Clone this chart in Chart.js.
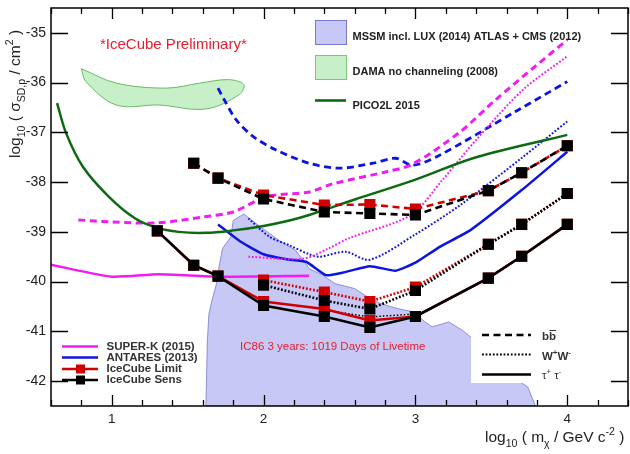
<!DOCTYPE html>
<html>
<head>
<meta charset="utf-8">
<script src="https://cdn.jsdelivr.net/npm/chart.js@4"></script>
<style>
  html, body { margin:0; padding:0; background:#fff; }
  #wrap { width:630px; height:454px; }
</style>
</head>
<body>
<div id="wrap"><canvas id="c" width="630" height="454"></canvas></div>
<script>
// ---- data (log10 mass, log10 cross-section) ----
const xTicks = [1, 2, 3, 4];
const yTicks = [-42, -41, -40, -39, -38, -37, -36, -35];

// IceCube masses (log10 GeV)
const xIC      = [1.30, 1.54, 1.70, 2.00, 2.40, 2.70, 3.00, 3.48, 3.70, 4.00];
const tauSens  = [-38.98, -39.67, -39.89, -40.48, -40.70, -40.92, -40.70, -39.93, -39.49, -38.85];
const tauLimit = [-38.98, -39.67, -39.89, -40.40, -40.55, -40.78, -40.70, -39.93, -39.49, -38.85];
const bbSens   = [null, -37.62, -37.92, -38.34, -38.60, -38.63, -38.66, -38.17, -37.81, -37.27];
const bbLimit  = [null, -37.62, -37.92, -38.26, -38.46, -38.45, -38.54, -38.17, -37.81, -37.27];
const wwSens   = [null, null, null, -40.07, -40.38, -40.55, -40.18, -39.25, -38.85, -38.23];
const wwLimit  = [null, null, null, -39.97, -40.21, -40.40, -40.11, -39.25, -38.85, -38.23];
const tauExtraX = [2.42, 2.70, 3.00];
const tauExtraY = [-40.58, -40.71, -40.65];

// SUPER-K (2015)
const skTauX = [0.60, 1.00, 1.31, 1.70, 2.30];
const skTauY = [-39.66, -39.90, -39.85, -39.90, -39.88];
const skBbX  = [0.78, 1.00, 1.30, 1.60, 1.80, 2.02, 2.30, 2.45, 2.81, 2.98, 3.29, 3.53, 3.79, 4.00];
const skBbY  = [-38.76, -38.80, -38.82, -38.70, -38.60, -38.29, -38.20, -38.04, -37.79, -37.64, -37.00, -36.34, -35.67, -35.14];
const skWwX  = [1.90, 2.26, 2.43, 2.56, 2.97, 3.18, 3.40, 3.71, 4.00];
const skWwY  = [-39.50, -39.54, -39.33, -39.13, -38.66, -37.95, -37.15, -36.14, -35.47];

// ANTARES (2013)
const anTauX = [1.70, 1.85, 2.00, 2.15, 2.28, 2.41, 2.52, 2.70, 2.87, 3.00, 3.16, 3.36, 3.70, 4.00];
const anTauY = [-38.85, -39.20, -39.45, -39.55, -39.60, -39.87, -39.82, -39.69, -39.78, -39.62, -39.30, -38.97, -38.16, -37.39];
const anWwX  = [1.90, 2.04, 2.17, 2.30, 2.37, 2.54, 2.70, 3.00, 3.30, 3.71, 4.00];
const anWwY  = [-38.73, -39.10, -39.27, -39.45, -39.50, -39.40, -39.56, -39.05, -38.45, -37.49, -36.78];
const anBbX  = [1.70, 1.74, 1.82, 1.93, 2.08, 2.30, 2.50, 2.72, 2.87, 2.98, 3.14, 3.66, 4.00];
const anBbY  = [-36.11, -36.34, -36.75, -37.08, -37.35, -37.62, -37.72, -37.62, -37.52, -37.66, -37.49, -36.58, -35.98];

// PICO2L 2015
const picoX = [0.64, 0.70, 0.81, 0.98, 1.15, 1.29, 1.44, 1.62, 1.80, 2.00, 2.17, 2.30, 2.60, 3.00, 3.40, 4.00];
const picoY = [-36.41, -37.02, -37.69, -38.29, -38.72, -38.91, -39.00, -39.02, -38.97, -38.88, -38.77, -38.66, -38.35, -37.95, -37.50, -37.05];

// DAMA no channeling (2008) region outline
const damaX = [0.80, 1.03, 1.36, 1.58, 1.77, 1.87, 1.84, 1.62, 1.31, 1.03, 0.83, 0.80];
const damaY = [-35.72, -36.01, -36.11, -36.01, -35.94, -36.04, -36.24, -36.53, -36.45, -36.45, -35.98, -35.72];

// MSSM region outline
const mssmX = [1.62, 1.63, 1.64, 1.66, 1.69, 1.71, 1.73, 1.785, 1.80, 1.87, 1.95, 2.10, 2.21, 2.27, 2.30, 2.39, 2.47, 2.60, 2.70, 2.77, 2.88, 2.99, 3.06, 3.11, 3.22, 3.31, 3.40, 3.60, 3.71, 3.74, 3.79, 1.62];
const mssmY = [-42.50, -41.18, -40.65, -40.38, -40.04, -39.64, -39.33, -39.10, -38.77, -38.64, -38.83, -39.17, -39.37, -39.60, -39.74, -39.87, -40.04, -40.14, -40.34, -40.44, -40.54, -40.61, -40.80, -40.91, -40.81, -40.98, -41.20, -41.80, -42.06, -42.12, -42.50, -42.50];

const C = {
  mag:   '#f01cf0',
  blue:  '#0c14e0',
  green: '#0d6a10',
  red:   '#d00000',
  black: '#000000',
  txt:   '#222222',
  note:  '#e4202f',
};
const FONT = '"Liberation Sans", Arial, Helvetica, sans-serif';

const pts = (xs, ys) => xs.map((x, i) => ({ x, y: ys[i] })).filter(p => p.y !== null);

function line(label, xs, ys, color, opts = {}) {
  return Object.assign({
    label, data: pts(xs, ys), showLine: true,
    borderColor: color, backgroundColor: color, borderWidth: 2.5,
    pointRadius: 0, tension: 0.3, fill: false, order: 5,
  }, opts);
}

const DASH = [7, 4.5], DOT = [1.8, 1.8];
const sq = { pointStyle: 'rect', pointRadius: 6, tension: 0, borderWidth: 2.6 };

const datasets = [
  line('MSSM', mssmX, mssmY, 'rgba(110,110,200,0.9)', { backgroundColor: 'rgba(200,200,246,1)', borderWidth: 0.8, tension: 0, fill: 'shape', order: 20 }),
  line('DAMA', damaX, damaY, 'rgba(90,180,90,1)', { backgroundColor: 'rgba(200,240,200,1)', borderWidth: 0.9, tension: 0.35, fill: 'shape', order: 19 }),
  line('PICO2L 2015', picoX, picoY, C.green, { tension: 0.35 }),
  line('SK tau', skTauX, skTauY, C.mag, { tension: 0.2 }),
  line('SK bb', skBbX, skBbY, C.mag, { borderDash: DASH, borderWidth: 3 }),
  line('SK WW', skWwX, skWwY, C.mag, { borderDash: DOT, borderWidth: 2 }),
  line('AN tau', anTauX, anTauY, C.blue, { tension: 0.15 }),
  line('AN bb', anBbX, anBbY, C.blue, { borderDash: DASH, borderWidth: 2.8 }),
  line('AN WW', anWwX, anWwY, C.blue, { borderDash: DOT, borderWidth: 2 }),
  line('tau extra', tauExtraX, tauExtraY, C.black, { borderDash: [1.5, 2], borderWidth: 1.5, tension: 0, order: 3 }),
  line('Limit bb', xIC, bbLimit, C.red, Object.assign({}, sq, { borderDash: DASH, order: 2 })),
  line('Limit WW', xIC, wwLimit, C.red, Object.assign({}, sq, { borderDash: DOT, order: 2 })),
  line('Limit tau', xIC, tauLimit, C.red, Object.assign({}, sq, { order: 2 })),
  line('Sens bb', xIC, bbSens, C.black, Object.assign({}, sq, { borderDash: DASH, order: 1 })),
  line('Sens WW', xIC, wwSens, C.black, Object.assign({}, sq, { borderDash: DOT, order: 1 })),
  line('Sens tau', xIC, tauSens, C.black, Object.assign({}, sq, { order: 1 })),
];

// draw text pieces with sub/superscripts, returns end x
function rich(ctx, parts, x, y, size, weight) {
  parts.forEach(p => {
    const s = p.s ? size * 0.68 : size;
    const dy = p.s === 'sub' ? size * 0.3 : p.s === 'sup' ? -size * 0.42 : 0;
    ctx.font = `${weight || ''} ${s}px ${FONT}`;
    ctx.fillText(p.t, x, y + dy);
    x += ctx.measureText(p.t).width;
  });
  return x;
}

const decor = {
  id: 'decor',
  afterDatasetsDraw(chart) {
    const { ctx, chartArea: a, scales: { x, y } } = chart;
    ctx.save();
    // white legend box (covers region fill)
    ctx.fillStyle = '#fff';
    ctx.fillRect(471, 321, a.right - 471, 62);

    // frame
    ctx.strokeStyle = '#000'; ctx.lineWidth = 1.5;
    ctx.strokeRect(a.left, a.top, a.right - a.left, a.bottom - a.top);
    // x ticks (inside, top & bottom)
    ctx.lineWidth = 1.3;
    for (let i = 0; i <= 19; i++) {
      const v = 0.6 + i * 0.2;
      const px = Math.round(x.getPixelForValue(v)) + 0.5;
      const major = Math.abs(v - Math.round(v)) < 1e-6;
      const len = major ? 11 : 6;
      ctx.beginPath();
      ctx.moveTo(px, a.bottom); ctx.lineTo(px, a.bottom - len);
      ctx.moveTo(px, a.top); ctx.lineTo(px, a.top + len);
      ctx.stroke();
    }
    // y ticks (inside, left & right)
    yTicks.forEach(v => {
      const py = Math.round(y.getPixelForValue(v)) + 0.5;
      ctx.beginPath();
      ctx.moveTo(a.left, py); ctx.lineTo(a.left + 17, py);
      ctx.moveTo(a.right, py); ctx.lineTo(a.right - 17, py);
      ctx.stroke();
    });

    // axis titles
    ctx.fillStyle = C.txt; ctx.textBaseline = 'alphabetic'; ctx.textAlign = 'left';
    rich(ctx, [{ t: 'log' }, { t: '10', s: 'sub' }, { t: ' ( m' }, { t: 'χ', s: 'sub' },
      { t: ' / GeV c' }, { t: '-2', s: 'sup' }, { t: ' )' }], 485, 442, 15.5);
    ctx.save();
    ctx.translate(20, 158); ctx.rotate(-Math.PI / 2);
    rich(ctx, [{ t: 'log' }, { t: '10', s: 'sub' }, { t: ' ( σ' }, { t: 'SD,p', s: 'sub' },
      { t: ' / cm' }, { t: '2', s: 'sup' }, { t: ' )' }], 0, 0, 15.5);
    ctx.restore();

    // notes
    ctx.fillStyle = C.note;
    ctx.font = `15px ${FONT}`;
    ctx.fillText('*IceCube Preliminary*', 100, 48.5);
    ctx.font = `11.5px ${FONT}`;
    ctx.fillText('IC86 3 years: 1019 Days of Livetime', 240, 350);

    // top legend
    ctx.font = `bold 11px ${FONT}`;
    ctx.textBaseline = 'middle';
    ctx.fillStyle = 'rgba(200,200,246,1)'; ctx.strokeStyle = 'rgba(110,110,200,0.9)'; ctx.lineWidth = 1;
    ctx.fillRect(315.5, 20.5, 31, 24); ctx.strokeRect(315.5, 20.5, 31, 24);
    ctx.fillStyle = 'rgba(200,240,200,1)'; ctx.strokeStyle = 'rgba(120,200,120,1)';
    ctx.fillRect(315.5, 55.5, 31, 24); ctx.strokeRect(315.5, 55.5, 31, 24);
    ctx.strokeStyle = C.green; ctx.lineWidth = 2.6;
    ctx.beginPath(); ctx.moveTo(315, 100.5); ctx.lineTo(346, 100.5); ctx.stroke();
    ctx.fillStyle = C.txt;
    ctx.fillText('MSSM incl. LUX (2014) ATLAS + CMS (2012)', 352.5, 36.5);
    ctx.fillText('DAMA no channeling (2008)', 352.5, 71.5);
    ctx.fillText('PICO2L 2015', 352.5, 105.5);

    // bottom-left legend
    const bl = [
      ['SUPER-K (2015)', C.mag, false, 346.5],
      ['ANTARES (2013)', C.blue, false, 357.5],
      ['IceCube Limit', C.red, true, 369],
      ['IceCube Sens', C.black, true, 380],
    ];
    ctx.font = `bold 11.5px ${FONT}`;
    bl.forEach(([t, col, mark, yy]) => {
      ctx.strokeStyle = col; ctx.lineWidth = 2.6;
      ctx.beginPath(); ctx.moveTo(62, yy); ctx.lineTo(98, yy); ctx.stroke();
      if (mark) { ctx.fillStyle = col; ctx.fillRect(76, yy - 4.5, 9, 9); }
      ctx.fillStyle = '#333';
      ctx.fillText(t, 106.5, yy);
    });

    // bottom-right legend (channels)
    const br = [[DASH, 335], [DOT, 354.5], [[], 374.5]];
    br.forEach(([d, yy]) => {
      ctx.setLineDash(d); ctx.strokeStyle = '#000'; ctx.lineWidth = d === DOT ? 1.8 : 2.6;
      ctx.beginPath(); ctx.moveTo(482, yy); ctx.lineTo(531, yy); ctx.stroke();
    });
    ctx.setLineDash([]);
    ctx.fillStyle = '#333'; ctx.textBaseline = 'alphabetic';
    ctx.font = `bold 11.5px ${FONT}`;
    ctx.fillText('b', 542, 340);
    const bw = ctx.measureText('b').width;
    ctx.fillText('b', 542 + bw, 340);
    ctx.lineWidth = 1; ctx.strokeStyle = '#333';
    ctx.beginPath(); ctx.moveTo(542 + bw + 0.5, 330.5); ctx.lineTo(542 + 2 * bw, 330.5); ctx.stroke();
    rich(ctx, [{ t: 'W' }, { t: '+', s: 'sup' }, { t: 'W' }, { t: '-', s: 'sup' }], 542, 359.5, 11.5, 'bold');
    rich(ctx, [{ t: 'τ' }, { t: '+', s: 'sup' }, { t: ' τ' }, { t: '-', s: 'sup' }], 542, 379, 11.5, '');
    ctx.restore();
  },
};

new Chart(document.getElementById('c'), {
  type: 'scatter',
  data: { datasets },
  options: {
    responsive: false, animation: false, devicePixelRatio: 1,
    layout: { autoPadding: false, padding: { top: 8, right: 2, left: 0, bottom: 0 } },
    plugins: { legend: { display: false }, tooltip: { enabled: false } },
    scales: {
      x: {
        type: 'linear', min: 0.6, max: 4.4,
        afterBuildTicks: s => { s.ticks = xTicks.map(v => ({ value: v })); },
        afterFit: s => { s.height = 48; s.paddingLeft = 0; s.paddingRight = 0; },
        grid: { display: false, drawTicks: false }, border: { display: false },
        ticks: { color: C.txt, font: { size: 13.5, family: FONT }, padding: 5, maxRotation: 0 },
      },
      y: {
        type: 'linear', min: -42.5, max: -34.5,
        afterBuildTicks: s => { s.ticks = yTicks.map(v => ({ value: v })); },
        afterFit: s => { s.width = 51; s.paddingTop = 0; s.paddingBottom = 0; },
        grid: { display: false, drawTicks: false }, border: { display: false },
        ticks: { color: C.txt, font: { size: 14, family: FONT }, padding: 5 },
      },
    },
  },
  plugins: [decor],
});
</script>
</body>
</html>
